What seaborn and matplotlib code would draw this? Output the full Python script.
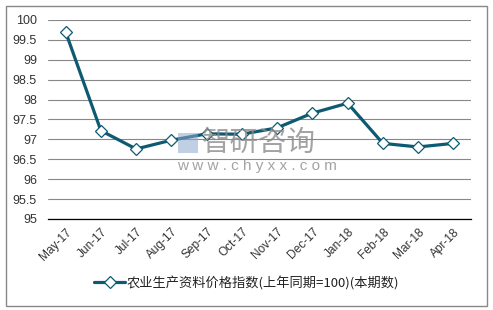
import matplotlib
matplotlib.use("Agg")
import matplotlib.pyplot as plt
import seaborn as sns
import pandas as pd
from matplotlib.patches import Rectangle

months = ["May-17", "Jun-17", "Jul-17", "Aug-17", "Sep-17", "Oct-17",
          "Nov-17", "Dec-17", "Jan-18", "Feb-18", "Mar-18", "Apr-18"]
values = [99.70, 97.22, 96.76, 96.98, 97.14, 97.13,
          97.29, 97.66, 97.91, 96.90, 96.81, 96.90]
series_name = "农业生产资料价格指数(上年同期=100)(本期数)"
y_ticks = [95, 95.5, 96, 96.5, 97, 97.5, 98, 98.5, 99, 99.5, 100]
y_labels = ["95", "95.5", "96", "96.5", "97", "97.5", "98", "98.5", "99", "99.5", "100"]

sns.set_theme(style="white")
plt.rcParams["font.family"] = ["Liberation Sans", "Noto Sans CJK SC", "DejaVu Sans"]

W, H = 493, 310
fig = plt.figure(figsize=(W / 100, H / 100), dpi=100)
fig.patch.set_facecolor("white")
ax = fig.add_axes([48 / W, 1 - 219 / H, (471 - 48) / W, (219 - 20) / H])

df = pd.DataFrame({"idx": range(len(months)), "value": values, "series": series_name})
color = "#0D5A72"
sns.lineplot(data=df, x="idx", y="value", hue="series", palette=[color], ax=ax,
             marker="D", markersize=6.5, markerfacecolor="white",
             markeredgecolor=color, markeredgewidth=0.9, linewidth=2.3, sort=False)

ax.set_xlim(-0.5, len(months) - 0.5)
ax.set_ylim(95, 100)
ax.set_yticks(y_ticks)
ax.set_yticklabels(y_labels, fontsize=9, color="#333333")
ax.set_xticks(range(len(months)))
ax.set_xticklabels(months, rotation=45, ha="right", rotation_mode="anchor",
                   fontsize=8.6, color="#333333")
ax.tick_params(axis="x", which="major", length=0, pad=5)
ax.tick_params(axis="y", length=0, pad=8)
ax.set_xticks([i - 0.5 for i in range(len(months) + 1)], minor=True)
ax.tick_params(axis="x", which="minor", direction="in", length=3, width=0.8, color="black")
ax.set_xlabel("")
ax.set_ylabel("")
ax.yaxis.grid(True, color="#888888", linewidth=0.8)
ax.set_axisbelow(True)
for s in ["left", "right", "top"]:
    ax.spines[s].set_visible(False)
ax.spines["bottom"].set_color("black")
ax.spines["bottom"].set_linewidth(0.9)

leg = ax.legend(loc="center", bbox_to_anchor=(0.5, 1 - 283 / H), bbox_transform=fig.transFigure,
                frameon=False, handlelength=2.4, handletextpad=0.1,
                prop={"family": ["Noto Sans CJK SC", "DejaVu Sans"], "size": 9.5})
for t in leg.get_texts():
    t.set_color("#222222")
for h in leg.get_lines():
    h.set_linewidth(2.3)

# watermark
fig.patches.append(Rectangle((178 / W, 1 - 153 / H), 20 / W, 20 / H, transform=fig.transFigure,
                             facecolor="#8FA8D0", alpha=0.55, edgecolor="none", zorder=5))
fig.text(202 / W, 1 - 143 / H, "智研咨询", fontsize=20.5, color="#8C8C8C", alpha=0.8,
         family=["Noto Sans CJK SC", "DejaVu Sans"], va="center", ha="left", zorder=6)
fig.text(177 / W, 1 - 166 / H, "w w w . c h y x x . c o m", fontsize=11, color="#8C8C8C",
         alpha=0.8, va="center", ha="left", zorder=6)

# outer border
fig.patches.append(Rectangle((6 / W, 4 / H), (487 - 6) / W, (306 - 6) / H, transform=fig.transFigure,
                             facecolor="none", edgecolor="#888888", linewidth=1.0))

fig.savefig("out.png", dpi=100)
